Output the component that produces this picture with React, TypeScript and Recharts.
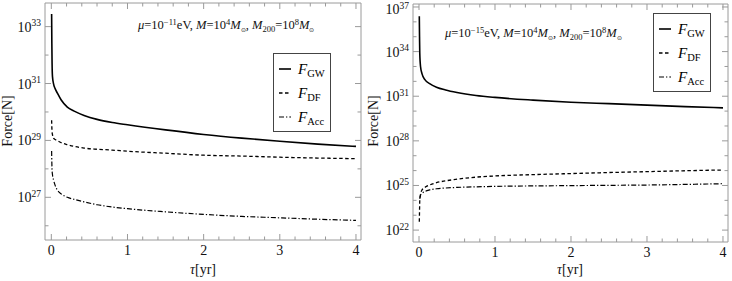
import { Line, LineChart, XAxis, YAxis } from "recharts";

// tau in years, forces as log10(F / N)
const leftTau = [0.004, 0.007, 0.01, 0.015, 0.03, 0.05, 0.08, 0.13, 0.21, 0.3, 0.43, 0.6, 0.8, 1, 1.5, 2, 2.5, 3, 3.5, 4];
const leftGW = [33.44, 32.4, 31.7, 31.25, 30.98, 30.82, 30.66, 30.42, 30.17, 30.03, 29.88, 29.74, 29.63, 29.55, 29.37, 29.21, 29.08, 28.97, 28.87, 28.79];
const leftDF = [29.71, 29.45, 29.3, 29.2, 29.08, 29.03, 28.99, 28.92, 28.85, 28.79, 28.73, 28.69, 28.66, 28.62, 28.55, 28.48, 28.45, 28.41, 28.38, 28.36];
const leftAcc = [28.63, 28.2, 27.95, 27.8, 27.6, 27.42, 27.25, 27.12, 27.0, 26.93, 26.84, 26.74, 26.66, 26.6, 26.49, 26.4, 26.33, 26.28, 26.23, 26.19];

const rightTau = [0.004, 0.007, 0.01, 0.02, 0.04, 0.08, 0.14, 0.23, 0.35, 0.5, 0.75, 1, 1.5, 2, 2.5, 3, 3.5, 4];
const rightGW = [36.37, 35.0, 33.9, 33.0, 32.5, 32.1, 31.85, 31.61, 31.42, 31.25, 31.05, 30.92, 30.74, 30.6, 30.5, 30.4, 30.3, 30.22];
const rightDF = [22.56, 23.3, 24.0, 24.4, 24.7, 24.88, 25.03, 25.19, 25.31, 25.42, 25.56, 25.64, 25.73, 25.8, 25.87, 25.93, 25.99, 26.04];
const rightAcc = [null, null, 24.1, 24.35, 24.47, 24.6, 24.7, 24.78, 24.83, 24.87, 24.91, 24.94, 24.97, 24.99, 25.01, 25.03, 25.07, 25.12];

const xTicks = [0, 0.2, 0.4, 0.6, 0.8, 1, 1.2, 1.4, 1.6, 1.8, 2, 2.2, 2.4, 2.6, 2.8, 3, 3.2, 3.4, 3.6, 3.8, 4];
const xLabels = [0, 1, 2, 3, 4];
const leftExps = [26, 27, 28, 29, 30, 31, 32, 33];
const leftMajor = [27, 29, 31, 33];
const rightExps = [22, 23, 24, 25, 26, 27, 28, 29, 30, 31, 32, 33, 34, 35, 36, 37];
const rightMajor = [22, 25, 28, 31, 34, 37];

const seriesNames = ["GW", "DF", "Acc"];

const FRAME = "#9a9a9a";
const INK = "#111";
const FONT = "'Liberation Serif', 'Times New Roman', serif";

const STYLES: Record<string, { width: number; dash?: string }> = {
  GW: { width: 1.6 },
  DF: { width: 1.3, dash: "3.5 2.5" },
  Acc: { width: 1.2, dash: "5 2 1.3 2" },
};

type Row = { t: number; GW: number | null; DF: number | null; Acc: number | null };

function buildRows(tau: number[], gw: (number | null)[], df: (number | null)[], acc: (number | null)[]): Row[] {
  const pow = (v: number | null) => (v == null ? null : 10 ** v);
  return tau.map((t, i) => ({ t, GW: pow(gw[i]), DF: pow(df[i]), Acc: pow(acc[i]) }));
}

const exp = (v: number) => Math.round(Math.log10(v));

function FLabel({ name, size = 15 }: { name: string; size?: number }) {
  return (
    <span style={{ fontSize: size, lineHeight: 1 }}>
      <i>F</i>
      <span style={{ fontSize: size * 0.7, position: "relative", top: 3 }}>{name}</span>
    </span>
  );
}

function LegendBox({ left, top }: { left: number; top: number }) {
  return (
    <div
      style={{
        position: "absolute",
        left,
        top,
        width: 58,
        height: 79,
        border: "1px solid #444",
        boxSizing: "border-box",
        background: "#fff",
        paddingTop: 3,
      }}
    >
      {seriesNames.map((s) => (
        <div key={s} style={{ height: 24, display: "flex", alignItems: "center" }}>
          <svg width={20} height={10} style={{ marginLeft: 2, marginRight: 2 }}>
            <line x1={3} x2={15} y1={5} y2={5} stroke="#000" strokeWidth={STYLES[s].width} strokeDasharray={STYLES[s].dash} />
          </svg>
          <FLabel name={s} />
        </div>
      ))}
    </div>
  );
}

function Note({ left, top, mu }: { left: number; top: number; mu: string }) {
  const sup = { fontSize: 8.5, position: "relative" as const, top: -4.5 };
  const sub = { fontSize: 8.5, position: "relative" as const, top: 3 };
  const sun = { fontSize: 6, position: "relative" as const, top: 3 };
  return (
    <div style={{ position: "absolute", left, top, fontSize: 12.5, whiteSpace: "nowrap", lineHeight: 1, color: INK }}>
      <i>μ</i>=10<span style={sup}>{mu}</span>eV, <i>M</i>=10<span style={sup}>4</span>
      <i>M</i>
      <span style={sun}>⊙</span>, <i>M</i>
      <span style={sub}>200</span>=10<span style={sup}>8</span>
      <i>M</i>
      <span style={sun}>⊙</span>
    </div>
  );
}

type PanelProps = {
  left: number;
  rows: Row[];
  exps: number[];
  major: number[];
  yDomain: [number, number];
  xDomain: [number, number];
  plot: { left: number; right: number; top: number; bottom: number };
  legend: { left: number; top: number };
  note: { left: number; top: number; mu: string };
  xTitleX: number;
};

function Panel(p: PanelProps) {
  const W = 366;
  const H = 281;
  const yTicks = p.exps.map((n) => 10 ** n);

  const leftTick = (props: any) => {
    const { x, y, payload } = props;
    const n = exp(payload.value);
    const isMajor = p.major.includes(n);
    // keep the topmost label inside the picture
    const base = Math.max(y + 5, 14);
    return (
      <g>
        <line x1={x} x2={x + (isMajor ? 6 : 3.5)} y1={y} y2={y} stroke={FRAME} />
        {isMajor && (
          <text x={x - 4} y={base} textAnchor="end" fontFamily={FONT} fontSize={14} fill={INK}>
            10
            <tspan dy={-5.5} fontSize={9.5}>
              {n}
            </tspan>
          </text>
        )}
      </g>
    );
  };
  const rightTick = (props: any) => {
    const { x, y, payload } = props;
    const isMajor = p.major.includes(exp(payload.value));
    return <line x1={x} x2={x - (isMajor ? 6 : 3.5)} y1={y} y2={y} stroke={FRAME} />;
  };
  const bottomTick = (props: any) => {
    const { x, y, payload } = props;
    const isMajor = xLabels.includes(payload.value);
    return (
      <g>
        <line x1={x} x2={x} y1={y} y2={y - (isMajor ? 6 : 3.5)} stroke={FRAME} />
        {isMajor && (
          <text x={x} y={y + 15} textAnchor="middle" fontFamily={FONT} fontSize={14} fill={INK}>
            {payload.value}
          </text>
        )}
      </g>
    );
  };
  const topTick = (props: any) => {
    const { x, y, payload } = props;
    const isMajor = xLabels.includes(payload.value);
    return <line x1={x} x2={x} y1={y} y2={y + (isMajor ? 6 : 3.5)} stroke={FRAME} />;
  };

  return (
    <div style={{ position: "absolute", left: p.left, top: 0, width: W, height: H, fontFamily: FONT }}>
      <LineChart width={W} height={H} data={p.rows} margin={{ top: 0, right: 0, bottom: 0, left: 0 }}>
        <XAxis
          dataKey="t"
          type="number"
          domain={p.xDomain}
          allowDataOverflow
          ticks={xTicks}
          interval={0}
          height={H - p.plot.bottom}
          tickSize={0}
          tickMargin={0}
          tick={bottomTick}
          axisLine={{ stroke: FRAME }}
        />
        <XAxis
          xAxisId="top"
          orientation="top"
          dataKey="t"
          type="number"
          domain={p.xDomain}
          allowDataOverflow
          ticks={xTicks}
          interval={0}
          height={p.plot.top}
          tickSize={0}
          tickMargin={0}
          tick={topTick}
          axisLine={{ stroke: FRAME }}
        />
        <YAxis
          scale="log"
          type="number"
          domain={p.yDomain}
          allowDataOverflow
          ticks={yTicks}
          interval={0}
          width={p.plot.left}
          tickSize={0}
          tickMargin={0}
          tick={leftTick}
          axisLine={{ stroke: FRAME }}
        />
        <YAxis
          yAxisId="right"
          orientation="right"
          scale="log"
          type="number"
          domain={p.yDomain}
          allowDataOverflow
          ticks={yTicks}
          interval={0}
          width={W - p.plot.right}
          tickSize={0}
          tickMargin={0}
          tick={rightTick}
          axisLine={{ stroke: FRAME }}
        />
        {seriesNames.map((s) => (
          <Line
            key={s}
            dataKey={s}
            type="monotone"
            stroke="#000"
            strokeWidth={STYLES[s].width}
            strokeDasharray={STYLES[s].dash}
            dot={false}
            activeDot={false}
            isAnimationActive={false}
          />
        ))}
      </LineChart>
      <div
        style={{
          position: "absolute",
          left: 8 - 40,
          top: 121 - 8,
          width: 80,
          textAlign: "center",
          fontSize: 14,
          lineHeight: "16px",
          transform: "rotate(-90deg)",
          color: INK,
        }}
      >
        Force[N]
      </div>
      <div
        style={{
          position: "absolute",
          left: p.xTitleX - 30,
          top: 262,
          width: 60,
          textAlign: "center",
          fontSize: 14,
          lineHeight: "16px",
          color: INK,
        }}
      >
        <i>τ</i>[yr]
      </div>
      <Note left={p.note.left} top={p.note.top} mu={p.note.mu} />
      <LegendBox left={p.legend.left} top={p.legend.top} />
    </div>
  );
}

export default function App() {
  const leftRows = buildRows(leftTau, leftGW, leftDF, leftAcc);
  const rightRows = buildRows(rightTau, rightGW, rightDF, rightAcc);
  return (
    <div style={{ position: "absolute", left: 0, top: 0, width: 732, height: 281, background: "#fff", overflow: "hidden" }}>
      <Panel
        left={0}
        rows={leftRows}
        exps={leftExps}
        major={leftMajor}
        yDomain={[10 ** 25.5, 10 ** 33.83]}
        xDomain={[-0.083, 4.066]}
        plot={{ left: 45, right: 361, top: 3, bottom: 240 }}
        legend={{ left: 273, top: 53 }}
        note={{ left: 138, top: 19, mu: "−11" }}
        xTitleX={203}
      />
      <Panel
        left={366}
        rows={rightRows}
        exps={rightExps}
        major={rightMajor}
        yDomain={[10 ** 21.2, 10 ** 37.2]}
        xDomain={[-0.079, 4.066]}
        plot={{ left: 47, right: 362, top: 4, bottom: 242 }}
        legend={{ left: 287, top: 13 }}
        note={{ left: 79, top: 27, mu: "−15" }}
        xTitleX={204}
      />
    </div>
  );
}
